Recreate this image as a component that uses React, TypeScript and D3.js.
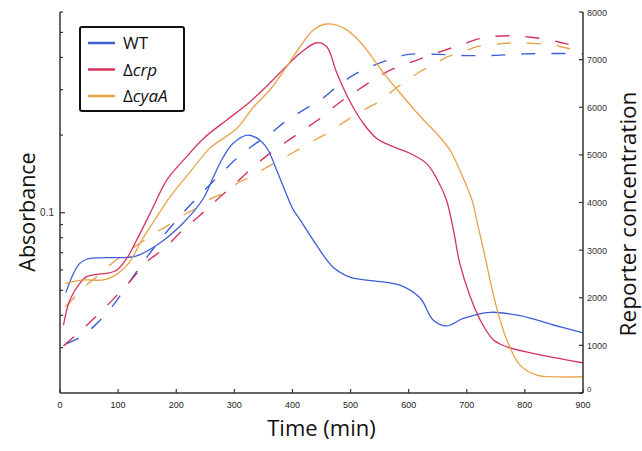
import React from "react";
import * as d3 from "d3";

// ---- data ----
const wtAbsT = [10, 23, 34, 46, 57, 90, 115, 132, 172, 212, 246, 263, 280, 298, 323, 344, 358, 373, 387, 401, 413, 442, 470, 499, 528, 585, 620, 642, 665, 694, 740, 792, 849, 900];
const wtAbsV = [0.049, 0.058, 0.0636, 0.066, 0.0667, 0.067, 0.0671, 0.068, 0.0763, 0.0912, 0.113, 0.136, 0.163, 0.186, 0.2, 0.191, 0.175, 0.146, 0.122, 0.103, 0.094, 0.0745, 0.0615, 0.0563, 0.0548, 0.0524, 0.0466, 0.0384, 0.0364, 0.0389, 0.0411, 0.0399, 0.0367, 0.0342];

const crpAbsT = [6, 17, 34, 46, 63, 80, 98, 115, 132, 155, 184, 218, 247, 287, 321, 356, 390, 413, 442, 459, 476, 499, 522, 545, 574, 602, 631, 648, 665, 677, 688, 706, 723, 746, 769, 814, 900];
const crpAbsV = [0.0367, 0.0459, 0.0532, 0.0565, 0.0577, 0.0582, 0.06, 0.0666, 0.0784, 0.0994, 0.134, 0.165, 0.194, 0.229, 0.262, 0.31, 0.37, 0.415, 0.456, 0.44, 0.35, 0.27, 0.222, 0.194, 0.18, 0.17, 0.155, 0.136, 0.112, 0.0857, 0.0636, 0.0472, 0.0384, 0.0321, 0.0302, 0.0285, 0.0262];

const cyaAbsT = [9, 37, 77, 100, 118, 141, 163, 189, 224, 258, 304, 333, 361, 390, 413, 436, 459, 490, 516, 528, 562, 591, 620, 648, 671, 688, 709, 717, 734, 740, 754, 769, 792, 822, 860, 900];
const cyaAbsV = [0.0532, 0.0548, 0.055, 0.0582, 0.0636, 0.0784, 0.0937, 0.115, 0.144, 0.178, 0.212, 0.257, 0.299, 0.368, 0.44, 0.511, 0.539, 0.517, 0.46, 0.427, 0.336, 0.281, 0.236, 0.203, 0.175, 0.146, 0.112, 0.0937, 0.0636, 0.0548, 0.0407, 0.0321, 0.0256, 0.0234, 0.0231, 0.0231];

const wtRepT = [10, 35, 60, 90, 120, 150, 180, 210, 240, 270, 300, 330, 360, 390, 420, 450, 480, 510, 540, 570, 600, 650, 700, 750, 800, 850, 900];
const wtRepV = [1030, 1175, 1420, 1820, 2337, 2860, 3330, 3760, 4150, 4520, 4880, 5180, 5430, 5720, 5950, 6170, 6470, 6710, 6880, 7010, 7110, 7110, 7085, 7090, 7120, 7130, 7120];

const crpRepT = [6, 35, 60, 90, 120, 150, 180, 210, 240, 270, 300, 330, 360, 390, 420, 450, 480, 510, 540, 570, 600, 630, 660, 690, 720, 750, 780, 810, 840, 870, 900];
const crpRepV = [990, 1300, 1585, 1950, 2337, 2760, 3040, 3405, 3720, 4060, 4380, 4720, 5020, 5280, 5530, 5790, 6090, 6340, 6580, 6790, 6930, 7060, 7190, 7310, 7435, 7490, 7500, 7470, 7420, 7335, 7260];

const cyaRepT = [9, 26, 46, 63, 86, 103, 138, 172, 192, 218, 235, 261, 281, 307, 327, 353, 373, 399, 419, 444, 465, 490, 508, 533, 554, 576, 594, 622, 642, 667, 690, 717, 740, 769, 793, 820, 845, 873, 900];
const cyaRepV = [1812, 2022, 2268, 2442, 2688, 2850, 3150, 3423, 3564, 3774, 3879, 4089, 4194, 4420, 4530, 4719, 4857, 5034, 5172, 5349, 5487, 5697, 5838, 6012, 6153, 6384, 6531, 6766, 6888, 7062, 7140, 7272, 7308, 7344, 7350, 7335, 7318, 7239, 7190];

const xTicks = [0, 100, 200, 300, 400, 500, 600, 700, 800, 900];
const leftMinorTicks = [0.03, 0.04, 0.05, 0.06, 0.07, 0.08, 0.09, 0.2, 0.3, 0.4, 0.5, 0.6];
const leftMajorTicks = [0.1];
const rightTicks = [0, 1000, 2000, 3000, 4000, 5000, 6000, 7000, 8000];

const seriesNames = ["WT", "crp", "cyaA"];
const seriesColors = ["#3d5fd6", "#d3335e", "#e8a24a"];

export default function App() {
  const L = 60, R = 583, T = 12, B = 393;
  const x = d3.scaleLinear().domain([0, 900]).range([L, R]);
  const yL = d3.scaleLog().domain([0.02, 0.6]).range([B, T]);
  const yR = d3.scaleLinear().domain([0, 8000]).range([B, T]);

  const absLine = d3
    .line<[number, number]>()
    .x((d) => x(d[0]))
    .y((d) => yL(d[1]))
    .curve(d3.curveCatmullRom.alpha(0.5));
  const repLine = d3
    .line<[number, number]>()
    .x((d) => x(d[0]))
    .y((d) => yR(d[1]))
    .curve(d3.curveCatmullRom.alpha(0.5));

  const zip = (a: number[], b: number[]) => a.map((t, i) => [t, b[i]] as [number, number]);
  const absSeries = [zip(wtAbsT, wtAbsV), zip(crpAbsT, crpAbsV), zip(cyaAbsT, cyaAbsV)];
  const repSeries = [zip(wtRepT, wtRepV), zip(crpRepT, crpRepV), zip(cyaRepT, cyaRepV)];

  const axisColor = "#333";
  const font = "'Open Sans', 'DejaVu Sans', sans-serif";
  const tickFont = "'Liberation Sans', Arial, sans-serif";

  return (
    <svg
      width={642}
      height={451}
      style={{ position: "absolute", left: 0, top: 0, background: "#fff" }}
    >
      {/* dashed reporter lines */}
      {repSeries.map((s, i) => (
        <path
          key={"r" + i}
          d={repLine(s) || ""}
          fill="none"
          stroke={seriesColors[i]}
          strokeWidth={1.4}
          strokeDasharray="14,16"
        />
      ))}
      {/* solid absorbance lines */}
      {absSeries.map((s, i) => (
        <path
          key={"a" + i}
          d={absLine(s) || ""}
          fill="none"
          stroke={seriesColors[i]}
          strokeWidth={1.3}
        />
      ))}

      {/* axes */}
      <line x1={L} y1={T} x2={L} y2={B} stroke={axisColor} strokeWidth={1.5} />
      <line x1={R} y1={T} x2={R} y2={B} stroke={axisColor} strokeWidth={1.5} />
      <line x1={L} y1={B} x2={R} y2={B} stroke={axisColor} strokeWidth={1.5} />

      {xTicks.map((t) => (
        <g key={"x" + t}>
          <line x1={x(t)} x2={x(t)} y1={B} y2={B - 4} stroke={axisColor} strokeWidth={1.2} />
          <text
            x={x(t)}
            y={B + 15}
            textAnchor="middle"
            fontSize={9}
            fontFamily={tickFont}
            fill="#222"
          >
            {t}
          </text>
        </g>
      ))}

      {leftMinorTicks.map((v) => (
        <line key={"lm" + v} x1={L} x2={L + 3} y1={yL(v)} y2={yL(v)} stroke={axisColor} strokeWidth={1.2} />
      ))}
      {leftMajorTicks.map((v) => (
        <g key={"lM" + v}>
          <line x1={L} x2={L + 5} y1={yL(v)} y2={yL(v)} stroke={axisColor} strokeWidth={1.2} />
          <text
            x={L - 6}
            y={yL(v) + 3.5}
            textAnchor="end"
            fontSize={10}
            fontFamily={tickFont}
            fill="#333"
          >
            {v}
          </text>
        </g>
      ))}

      {rightTicks.map((v) => (
        <g key={"rt" + v}>
          <line x1={R - 4} x2={R} y1={yR(v)} y2={yR(v)} stroke={axisColor} strokeWidth={1.2} />
          <text
            x={R + 4}
            y={v === 0 ? yR(v) - 1 : yR(v) + 3.5}
            textAnchor="start"
            fontSize={v === 0 ? 8 : 9}
            fontFamily={tickFont}
            fill="#333"
          >
            {v}
          </text>
        </g>
      ))}

      {/* axis titles */}
      <text x={(L + R) / 2} y={436} textAnchor="middle" fontSize={22} fontFamily={font} fill="#111">
        Time (min)
      </text>
      <text
        transform={`translate(35, 212) rotate(-90)`}
        textAnchor="middle"
        fontSize={21.5}
        fontFamily={font}
        fill="#111"
      >
        Absorbance
      </text>
      <text
        transform={`translate(636, 214) rotate(-90)`}
        textAnchor="middle"
        fontSize={22.5}
        fontFamily={font}
        fill="#111"
      >
        Reporter concentration
      </text>

      {/* legend */}
      <rect x={80} y={27} width={104} height={84} rx={2} fill="#fff" stroke="#111" strokeWidth={2} />
      {seriesNames.map((n, i) => {
        const yy = 43 + i * 26.5;
        return (
          <g key={"lg" + n}>
            <line x1={88} x2={115} y1={yy} y2={yy} stroke={seriesColors[i]} strokeWidth={2.5} />
            <text x={123} y={yy + 6} fontSize={17} fontFamily={font} fill="#111">
              {i === 0 ? (
                "WT"
              ) : (
                <>
                  <tspan>Δ</tspan>
                  <tspan fontStyle="italic">{n}</tspan>
                </>
              )}
            </text>
          </g>
        );
      })}
    </svg>
  );
}
